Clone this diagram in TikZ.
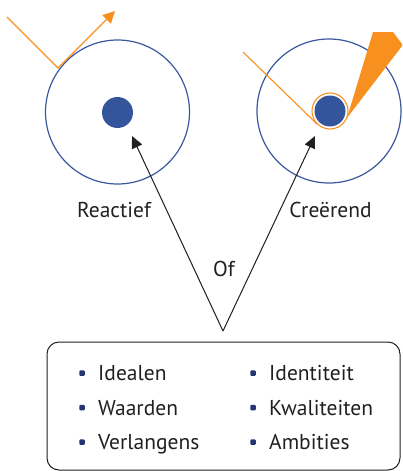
\documentclass[tikz,border=0pt]{standalone}
\usepackage{fontspec}
\setmainfont{PT Sans}
\usetikzlibrary{arrows.meta}
\definecolor{ringblue}{HTML}{3A57A0}
\definecolor{dotblue}{HTML}{34549B}
\definecolor{orng}{HTML}{F7901E}
\definecolor{navy}{HTML}{253571}
\definecolor{ink}{HTML}{231F20}
\tikzset{
  bigring/.style={circle, draw=ringblue, line width=1.2pt, minimum size=144pt, inner sep=0pt},
  core/.style={circle, fill=dotblue, minimum size=31pt, inner sep=0pt},
  ray/.style={draw=orng, line width=1.1pt},
  pointer/.style={draw=ink, line width=1pt, -{Triangle[length=12pt,width=11pt]}},
  lbl/.style={font=\fontsize{21.5}{24}\selectfont, text=ink, anchor=base, inner sep=0pt},
  item/.style={font=\fontsize{21.5}{24}\selectfont, text=ink, anchor=base west, inner sep=0pt},
  bul/.style={fill=navy, rounded corners=1pt, minimum size=5.5pt, inner sep=0pt},
}
\begin{document}
\begin{tikzpicture}[x=1pt,y=-1pt]
\useasboundingbox (0,0) rectangle (402,471);
% left circle
\node[bigring] (lc) at (117.5,112) {};
\node[core] (ld) at (117.5,112.5) {};
\coordinate (lin) at (7,17);
\coordinate (lhit) at (58,68);
\coordinate (lout) at (115,11);
\draw[ray, -{Triangle[length=12pt,width=12pt]}] (lin) -- (lhit) -- (lout);
% right circle
\node[bigring] (rc) at (329,111) {};
\node[core] (rd) at (330,111) {};
\node[circle, draw=orng, line width=1.1pt, minimum size=36pt, inner sep=0pt] (rr) at (330,111) {};
\coordinate (rin) at (243,52);
\coordinate (rhit) at (317,124);
\draw[ray] (rin) -- (rhit);
\coordinate (wapex) at (347,118);
\fill[orng] (wapex) -- (373,32) -- (393,32) -- (402,44) -- (402,46) -- cycle;
% labels
\node[lbl] (reactief) at (114,217.5) {Reactief};
\node[lbl] (creerend) at (330.5,217.5) {Creërend};
\node[lbl] (of) at (224,276.5) {Of};
% pointers
\coordinate (apex) at (223,331);
\coordinate (ltip) at (132,136);
\coordinate (rtip) at (315,136);
\draw[pointer] (apex) -- (ltip);
\draw[pointer] (apex) -- (rtip);
% box
\node[draw=ink, line width=1pt, rounded corners=12pt, minimum width=353pt, minimum height=128pt, inner sep=0pt] (box) at (223.5,406) {};
% items
\node[bul] (b1) at (82,373) {};
\node[bul] (b2) at (82,407.5) {};
\node[bul] (b3) at (82,442) {};
\node[bul] (b4) at (253,373) {};
\node[bul] (b5) at (253,407.5) {};
\node[bul] (b6) at (253,442) {};
\node[item] (t1) at (98,380.5) {Idealen};
\node[item] (t2) at (98,415) {Waarden};
\node[item] (t3) at (98,449.5) {Verlangens};
\node[item] (t4) at (269,380.5) {Identiteit};
\node[item] (t5) at (269,415) {Kwaliteiten};
\node[item] (t6) at (269,449.5) {Ambities};
\end{tikzpicture}
\end{document}
